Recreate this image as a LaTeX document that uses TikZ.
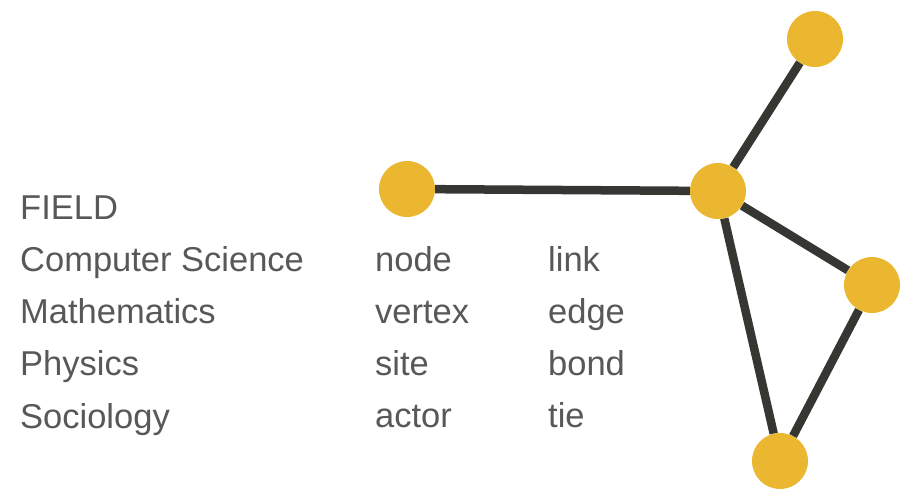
\documentclass[tikz,border=0pt]{standalone}
\usepackage{fontspec}
\setmainfont{Liberation Sans}
\usetikzlibrary{positioning}
\definecolor{dotgold}{HTML}{EBB731}
\definecolor{linkgray}{HTML}{363633}
\definecolor{textgray}{HTML}{58585A}

\begin{document}
\begin{tikzpicture}[x=1pt, y=-1pt, font=\fontsize{34.5}{40}\selectfont,
          label/.style={anchor=base west, text=textgray, inner sep=0pt},
          dot/.style={circle, fill=dotgold, minimum size=56pt, inner sep=0pt},
          link/.style={line width=8.5pt, color=linkgray}]
        \useasboundingbox (0,0) rectangle (914,498);
        % table of names
        \node [label] at (20,219) (field) {FIELD};
        \node [label, below=52.3pt of field.base west, anchor=base west] (cs) {Computer Science};
        \node [label, below=52.3pt of cs.base west, anchor=base west] (math) {Mathematics};
        \node [label, below=52.3pt of math.base west, anchor=base west] (phys) {Physics};
        \node [label, below=52.3pt of phys.base west, anchor=base west] (soc) {Sociology};

        \node [label] at (375,271) (nodeword) {node};
        \node [label, below=52.3pt of nodeword.base west, anchor=base west] (vertex) {vertex};
        \node [label, below=52.3pt of vertex.base west, anchor=base west] (site) {site};
        \node [label, below=52.3pt of site.base west, anchor=base west] (actor) {actor};

        \node [label] at (548,271) (linkword) {link};
        \node [label, below=52.3pt of linkword.base west, anchor=base west] (edge) {edge};
        \node [label, below=52.3pt of edge.base west, anchor=base west] (bond) {bond};
        \node [label, below=52.3pt of bond.base west, anchor=base west] (tie) {tie};

        % the network
        \node [dot] at (407,189) (v1) {};
        \node [dot] at (718,191) (v2) {};
        \node [dot] at (815,39) (v3) {};
        \node [dot] at (872,285) (v4) {};
        \node [dot] at (780,461) (v5) {};

        \draw [link] (v1) -- (v2);
        \draw [link] (v2) -- (v3);
        \draw [link] (v2) -- (v4);
        \draw [link] (v2) -- (v5);
        \draw [link] (v4) -- (v5);
      \end{tikzpicture}
\end{document}
